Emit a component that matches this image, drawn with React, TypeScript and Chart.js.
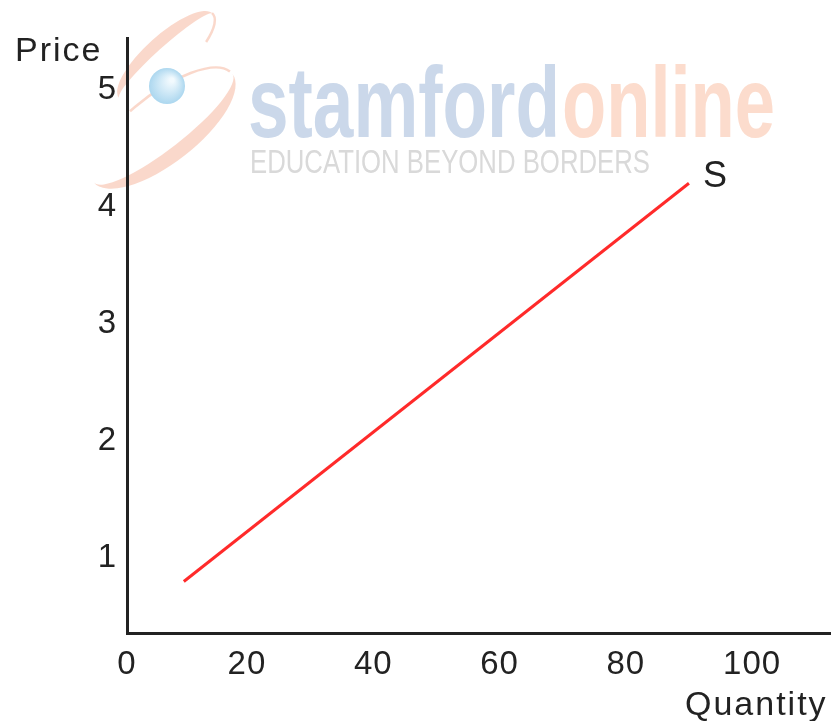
import React, { useEffect, useRef } from 'react';
import { Chart, registerables } from 'chart.js';

Chart.register(...registerables);

// ---- data ----
const xTickValues = [0, 20, 40, 60, 80, 100];
const yTickValues = [1, 2, 3, 4, 5];
const supplyQuantity = [10, 90];
const supplyPrice = [0.8, 4.2];
const seriesLabel = 'S';
const xTitle = 'Quantity';
const yTitle = 'Price';
const brandA = 'stamford';
const brandB = 'online';
const tagline = 'EDUCATION BEYOND BORDERS';

const X_MIN = 1;
const X_MAX = 112.5;
const Y_MIN = 0.36;
const Y_MAX = 5.44;

const FONT = "'Liberation Sans', Arial, sans-serif";
const TEXT = '#222222';

function fitText(ctx: CanvasRenderingContext2D, text: string, x: number, y: number, w: number) {
  const m = ctx.measureText(text).width;
  ctx.save();
  ctx.translate(x, y);
  ctx.scale(w / m, 1);
  ctx.fillText(text, 0, 0);
  ctx.restore();
}

function crescent(
  ctx: CanvasRenderingContext2D,
  cx: number, cy: number, a: number, bOut: number, bIn: number, rotDeg: number,
  start: number, end: number,
) {
  const r = (rotDeg * Math.PI) / 180;
  ctx.beginPath();
  ctx.ellipse(cx, cy, a, bOut, r, start, end, false);
  ctx.ellipse(cx, cy, a, bIn, r, end, start, true);
  ctx.closePath();
  ctx.fill();
}

const decor = {
  id: 'decor',
  beforeDraw(chart: any) {
    const ctx: CanvasRenderingContext2D = chart.ctx;
    ctx.save();
    // swoosh
    const sw = 'rgba(246,178,152,0.5)';
    ctx.fillStyle = sw;
    ctx.strokeStyle = sw;
    crescent(ctx, 163, 128, 88, 35, 21, -38, 0, Math.PI);
    crescent(ctx, 166, 56, 63, 21, 9, -42, Math.PI, 2 * Math.PI);
    ctx.lineWidth = 2.5;
    ctx.beginPath();
    ctx.ellipse(163, 128, 88, 34, (-38 * Math.PI) / 180, -0.1, -1.75, true);
    ctx.stroke();
    ctx.beginPath();
    ctx.ellipse(166, 56, 63, 21, (-42 * Math.PI) / 180, -0.05, 0.9, false);
    ctx.stroke();
    // ball
    const g = ctx.createRadialGradient(172, 80, 2, 167, 86, 18);
    g.addColorStop(0, '#f2fafe');
    g.addColorStop(1, '#acd7ef');
    ctx.fillStyle = g;
    ctx.beginPath();
    ctx.arc(167, 86, 18, 0, Math.PI * 2);
    ctx.fill();
    // brand text
    ctx.textBaseline = 'alphabetic';
    ctx.textAlign = 'left';
    ctx.font = "bold 100px 'Liberation Sans Narrow', 'Liberation Sans', Arial, sans-serif";
    ctx.fillStyle = '#cbd8ea';
    fitText(ctx, brandA, 248, 137, 312);
    ctx.fillStyle = '#fcdccd';
    fitText(ctx, brandB, 562, 137, 213);
    ctx.font = "34px 'Liberation Sans Narrow', 'Liberation Sans', Arial, sans-serif";
    ctx.fillStyle = '#d9d9d9';
    fitText(ctx, tagline, 250, 173, 400);
    ctx.restore();
    (ctx as any).letterSpacing = '1px';
  },
  afterDraw(chart: any) {
    const ctx: CanvasRenderingContext2D = chart.ctx;
    ctx.save();
    (ctx as any).letterSpacing = '2px';
    ctx.fillStyle = TEXT;
    ctx.textAlign = 'left';
    ctx.textBaseline = 'alphabetic';
    ctx.font = `34px ${FONT}`;
    ctx.fillText(yTitle, 15, 61);
    ctx.fillText(xTitle, 685, 715);
    (ctx as any).letterSpacing = '0px';
    const meta = chart.getDatasetMeta(0);
    const last = meta.data[meta.data.length - 1];
    ctx.font = `36px ${FONT}`;
    ctx.textBaseline = 'middle';
    ctx.fillText(seriesLabel, last.x + 14, last.y - 6);
    ctx.restore();
  },
};

export default function App() {
  const ref = useRef<HTMLCanvasElement>(null);
  useEffect(() => {
    if (!ref.current) return;
    const font = { family: FONT, size: 33 };
    const chart = new Chart(ref.current, {
      type: 'scatter',
      data: {
        datasets: [
          {
            label: seriesLabel,
            data: supplyQuantity.map((q, i) => ({ x: q, y: supplyPrice[i] })),
            showLine: true,
            borderColor: '#ff2a2a',
            borderWidth: 3,
            pointRadius: 0,
            fill: false,
          },
        ],
      },
      options: {
        animation: false,
        responsive: false,
        maintainAspectRatio: false,
        layout: { padding: { top: 38, left: 0, right: 0, bottom: 0 } },
        plugins: { legend: { display: false }, tooltip: { enabled: false } },
        scales: {
          x: {
            type: 'linear',
            min: X_MIN,
            max: X_MAX,
            afterBuildTicks: (s: any) => {
              s.ticks = xTickValues.map((v) => ({ value: Math.max(v, X_MIN) }));
            },
            afterFit: (s: any) => {
              s.height = 88;
            },
            ticks: {
              callback: (_v: any, i: number) => String(xTickValues[i]),
              font,
              color: TEXT,
              padding: 12,
              maxRotation: 0,
              autoSkip: false,
            },
            grid: { display: false, drawTicks: false },
            border: { display: true, color: '#222', width: 3 },
          },
          y: {
            type: 'linear',
            min: Y_MIN,
            max: Y_MAX,
            afterBuildTicks: (s: any) => {
              s.ticks = yTickValues.map((v) => ({ value: v }));
            },
            afterFit: (s: any) => {
              s.width = 127;
            },
            ticks: {
              callback: (v: any) => String(v),
              font,
              color: TEXT,
              padding: 10,
              autoSkip: false,
            },
            grid: { display: false, drawTicks: false },
            border: { display: true, color: '#222', width: 3 },
          },
        },
      },
      plugins: [decor],
    } as any);
    return () => chart.destroy();
  }, []);
  return (
    <div style={{ position: 'fixed', left: 0, top: 0, width: 831, height: 721, background: '#fff' }}>
      <canvas ref={ref} width={831} height={721} style={{ display: 'block' }} />
    </div>
  );
}
